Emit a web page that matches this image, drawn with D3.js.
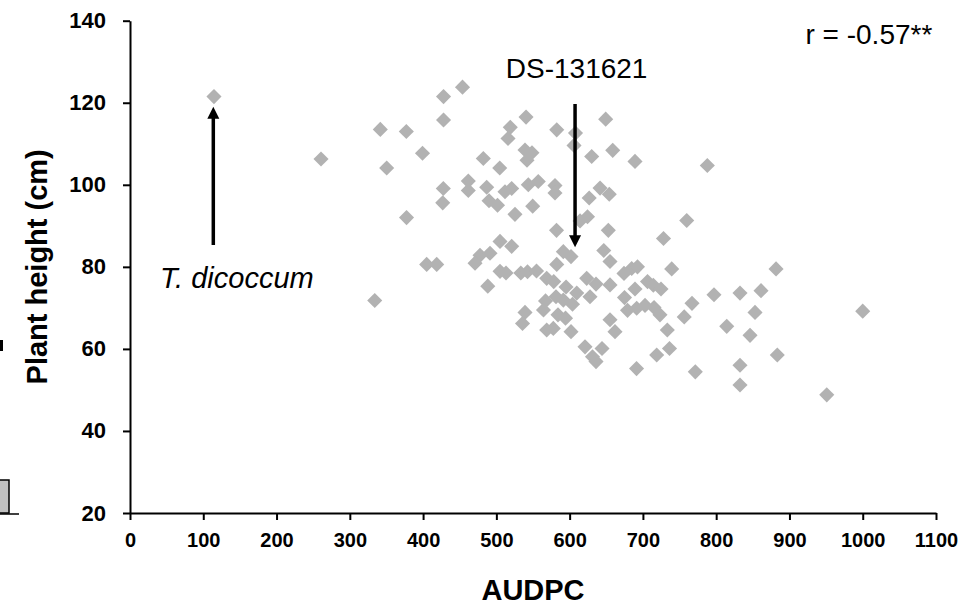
<!DOCTYPE html>
<html>
<head>
<meta charset="utf-8">
<script src="https://cdn.jsdelivr.net/npm/d3@7"></script>
<style>
  body { margin: 0; background: #fff; }
  svg { display: block; font-family: "Liberation Sans", Arial, sans-serif; }
</style>
</head>
<body>
<svg id="chart" width="977" height="606"></svg>
<script>
// AUDPC vs plant height, one value per genotype
const audpc = [114.6, 260.7, 341.6, 377.1, 399.2, 350.3, 377.4, 404.9, 418.6, 334.0,
  427.9, 427.9, 427.6, 426.8, 453.8, 482.2, 504.6, 519.0, 515.9, 540.5,
  539.1, 548.6, 541.8, 461.7, 461.7, 486.8, 490.0, 501.6, 511.8, 520.9,
  543.6, 557.2, 580.0, 580.0, 525.4, 549.6, 582.4, 608.0, 606.0, 630.1,
  649.2, 658.8, 689.2, 787.9, 626.7, 641.5, 654.1, 614.2, 624.4, 582.1,
  652.8, 759.8, 728.1, 505.0, 520.9, 477.7, 491.3, 470.9, 591.4, 601.9,
  646.6, 655.1, 582.4, 505.0, 513.2, 533.4, 542.5, 554.8, 488.3, 568.7,
  578.3, 623.3, 636.0, 655.1, 609.7, 627.8, 567.1, 581.4, 591.4, 603.9,
  564.3, 584.1, 594.4, 539.1, 535.7, 577.7, 568.7, 601.9, 621.0, 631.2,
  636.0, 644.2, 674.2, 684.7, 692.6, 706.3, 714.2, 724.7, 689.2, 739.3,
  674.9, 767.0, 797.0, 832.5, 861.2, 881.7, 679.0, 691.5, 702.9, 715.2,
  723.3, 756.4, 853.0, 655.1, 661.9, 733.3, 814.4, 846.2, 1000.0, 736.3,
  718.8, 883.4, 691.3, 771.5, 832.5, 832.5, 950.9, 595.1];

const plantHeight = [121.5, 106.3, 113.5, 113.0, 107.7, 104.1, 92.0, 80.6, 80.6, 71.8,
  121.5, 115.8, 99.1, 95.6, 123.8, 106.4, 104.1, 114.0, 111.3, 116.5,
  108.5, 107.8, 106.0, 100.9, 98.6, 99.4, 96.1, 95.0, 98.3, 99.1,
  100.0, 100.8, 99.8, 98.0, 92.8, 94.8, 113.4, 112.6, 109.6, 106.9,
  116.0, 108.4, 105.7, 104.7, 96.8, 99.2, 97.7, 91.2, 92.2, 88.9,
  88.9, 91.3, 86.9, 86.2, 85.0, 82.8, 83.3, 80.9, 83.7, 82.5,
  84.0, 81.3, 80.6, 78.9, 78.5, 78.5, 78.8, 79.0, 75.3, 77.2,
  76.4, 77.2, 75.8, 75.6, 73.6, 72.7, 71.7, 72.7, 71.9, 70.9,
  69.5, 68.3, 67.5, 68.9, 66.2, 65.0, 64.6, 64.2, 60.5, 58.1,
  56.9, 60.1, 78.4, 79.6, 80.0, 76.4, 75.5, 74.6, 74.6, 79.5,
  72.5, 71.1, 73.2, 73.6, 74.2, 79.5, 69.4, 69.9, 70.6, 70.1,
  68.3, 67.8, 68.9, 67.1, 64.2, 64.6, 65.5, 63.3, 69.2, 60.1,
  58.5, 58.5, 55.2, 54.4, 56.0, 51.2, 48.8, 75.1];

const xTicks = [0, 100, 200, 300, 400, 500, 600, 700, 800, 900, 1000, 1100];
const yTicks = [20, 40, 60, 80, 100, 120, 140];

const margin = { top: 20.7, right: 41, bottom: 93, left: 130 };
const width = 977 - margin.left - margin.right;
const height = 606 - margin.top - margin.bottom;

const svg = d3.select("#chart");

// bits of the neighbouring figure that got cropped in on the left
svg.append("rect")
  .attr("x", -1).attr("y", 480).attr("width", 10).attr("height", 33)
  .attr("fill", "#c0c0c0").attr("stroke", "#000").attr("stroke-width", 1.5);
svg.append("line")
  .attr("x1", 0).attr("x2", 19).attr("y1", 514).attr("y2", 514)
  .attr("stroke", "#000").attr("stroke-width", 1.5);
svg.append("rect")
  .attr("x", 0).attr("y", 340).attr("width", 3).attr("height", 11)
  .attr("fill", "#000");

const g = svg.append("g")
  .attr("transform", "translate(" + margin.left + "," + margin.top + ")");

const x = d3.scaleLinear().domain([0, 1100]).range([0, width]);
const y = d3.scaleLinear().domain([20, 140]).range([height, 0]);

const xAxis = d3.axisBottom(x).tickValues(xTicks).tickFormat(d3.format("d"))
  .tickSize(7).tickSizeOuter(0).tickPadding(13);
const yAxis = d3.axisLeft(y).tickValues(yTicks).tickFormat(d3.format("d"))
  .tickSize(7).tickSizeOuter(0).tickPadding(17);

const gx = g.append("g")
  .attr("transform", "translate(0," + height + ")")
  .call(xAxis);
gx.selectAll("text")
  .style("font-size", "20px").style("font-weight", "bold")
  .attr("fill", "#000");

const gy = g.append("g").call(yAxis);
gy.selectAll("text")
  .style("font-size", "22px").style("font-weight", "bold")
  .attr("fill", "#000");

g.selectAll(".domain, .tick line").attr("stroke", "#000").attr("stroke-width", 2);

// points
const diamond = d3.symbol().type(d3.symbolSquare).size(114);
g.selectAll(".pt")
  .data(audpc.map((a, i) => [a, plantHeight[i]]))
  .enter().append("path")
  .attr("class", "pt")
  .attr("d", diamond)
  .attr("transform", d => "translate(" + x(d[0]) + "," + y(d[1]) + ") rotate(45)")
  .attr("fill", "#b2b2b2");

// arrows pointing at the two labelled genotypes
function arrow(xv, yFrom, yTo) {
  const px = x(xv), y0 = y(yFrom), y1 = y(yTo);
  const dir = y1 < y0 ? 1 : -1;
  g.append("line")
    .attr("x1", px).attr("x2", px)
    .attr("y1", y0).attr("y2", y1 + dir * 10)
    .attr("stroke", "#000").attr("stroke-width", 3.5);
  g.append("path")
    .attr("d", "M" + (px - 6) + "," + (y1 + dir * 12) + "L" + px + "," + y1 + "L" + (px + 6) + "," + (y1 + dir * 12) + "Z")
    .attr("fill", "#000");
}
arrow(113.7, 85.3, 119.0);
arrow(607.4, 119.7, 84.8);

g.append("text")
  .attr("x", x(41)).attr("y", y(74.9))
  .style("font-size", "29px").style("font-style", "italic")
  .text("T. dicoccum");

g.append("text")
  .attr("x", x(609.5)).attr("y", y(126.0))
  .attr("text-anchor", "middle")
  .style("font-size", "28px")
  .text("DS-131621");

g.append("text")
  .attr("x", x(1095)).attr("y", y(134.3))
  .attr("text-anchor", "end")
  .style("font-size", "28px")
  .text("r = -0.57**");

// axis titles
svg.append("text")
  .attr("x", margin.left + x(550)).attr("y", 600)
  .attr("text-anchor", "middle")
  .style("font-size", "29px").style("font-weight", "bold")
  .text("AUDPC");

svg.append("text")
  .attr("transform", "translate(47," + (margin.top + y(80)) + ") rotate(-90)")
  .attr("text-anchor", "middle")
  .style("font-size", "29px").style("font-weight", "bold")
  .text("Plant height (cm)");
</script>
</body>
</html>
